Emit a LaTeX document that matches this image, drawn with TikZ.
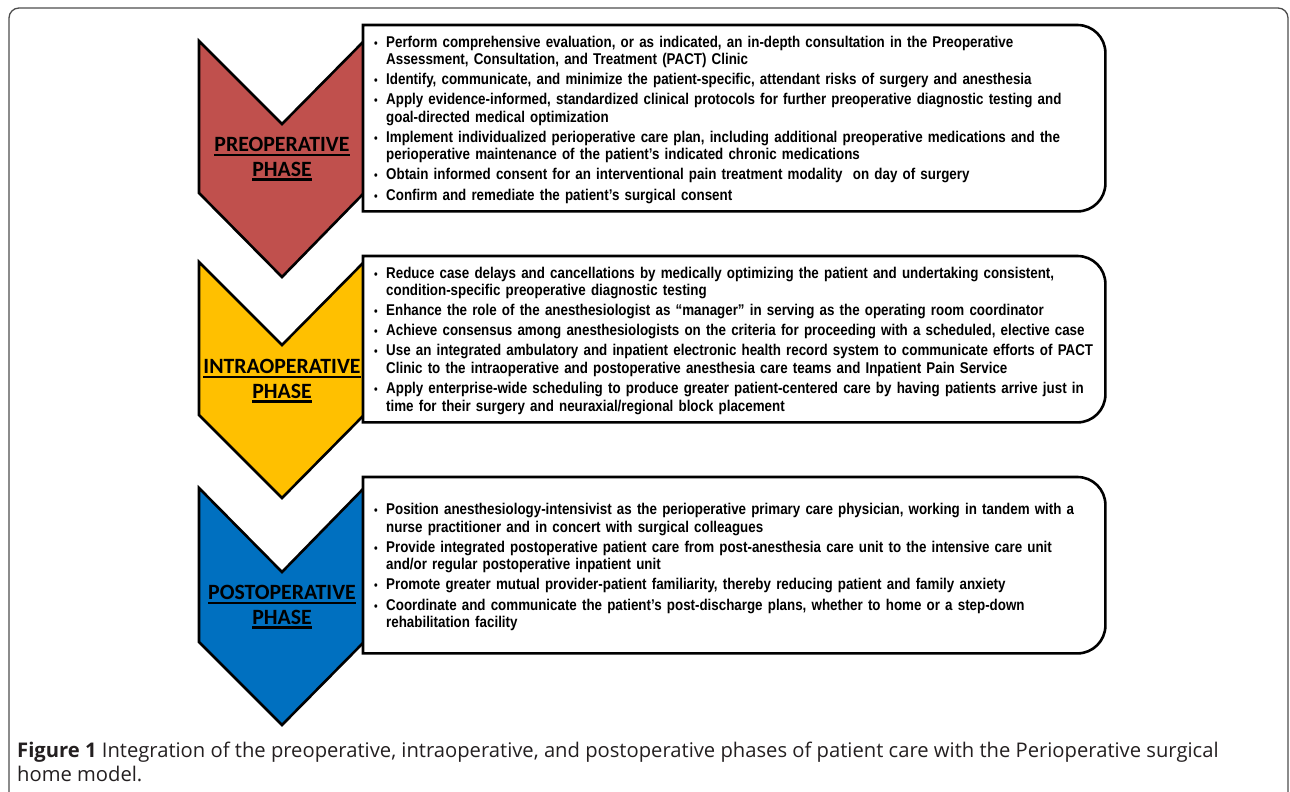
\documentclass[tikz,border=0pt]{standalone}
\usepackage{fontspec}
\setmainfont{Liberation Sans}
\newfontfamily\itemfont[FakeStretch=0.856]{Liberation Sans Bold}
\newfontfamily\phasefont{Carlito Bold}
\newfontfamily\capfont[BoldFont={Open Sans Bold}]{Open Sans}
\definecolor{prered}{HTML}{C0504D}
\definecolor{intrayellow}{HTML}{FFC000}
\definecolor{postblue}{HTML}{0070C0}
\definecolor{capgray}{HTML}{231F20}
\definecolor{framegray}{HTML}{4D4D4D}
% one bullet point, hanging indent
\newcommand{\pitem}[1]{\par\hangindent=12pt\hangafter=1\noindent\makebox[12pt][l]{\fontsize{12}{12}\selectfont\textbullet}#1\par}
% thick underline for the phase names
\newcommand{\phaseul}[1]{\setbox0\hbox{#1}\leavevmode\rlap{\rule[-4.6pt]{\wd0}{2.4pt}}\box0}
\begin{document}
\begin{tikzpicture}[x=1pt, y=1pt,
  chevron/.style={draw=black, line width=2.6pt, line join=miter},
  itembox/.style={anchor=north west, fill=white, minimum width=742pt, inner sep=0pt},
  itemtext/.style={text width=720pt, inner sep=0pt, align=left, yshift=3pt,
    font=\itemfont\fontsize{15.6}{17.5}\selectfont},
  boxline/.style={line width=2.6pt, line join=miter},
  phaselabel/.style={font=\phasefont\fontsize{21.8}{24.5}\selectfont, align=center, inner sep=0pt},
  capline/.style={anchor=base west, inner sep=0pt, text=capgray, font=\capfont\fontsize{20.2}{24}\selectfont}]
  \useasboundingbox (0,0) rectangle (1290,-792);
  % outer frame of the figure
  \draw[framegray, line width=1.3pt, rounded corners=10pt] (9,-800) -- (9,-8) -- (1288,-8) -- (1288,-800);
  % three phase chevrons
  \filldraw[chevron, fill=prered] (199,-41) -- (282,-124) -- (364,-41) -- (364,-193) -- (282,-277) -- (199,-193) -- cycle;
  \filldraw[chevron, fill=intrayellow] (199,-262) -- (282,-345) -- (364,-262) -- (364,-415) -- (282,-498) -- (199,-415) -- cycle;
  \filldraw[chevron, fill=postblue] (199,-488) -- (282,-572) -- (364,-488) -- (364,-642) -- (282,-725) -- (199,-642) -- cycle;
  \node[phaselabel] (prelabel) at (282,-159) {\phaseul{PREOPERATIVE}\\\phaseul{PHASE}};
  \node[phaselabel] (intralabel) at (282,-381) {\phaseul{INTRAOPERATIVE}\\\phaseul{PHASE}};
  \node[phaselabel] (postlabel) at (282,-607) {\phaseul{POSTOPERATIVE}\\\phaseul{PHASE}};
  % item boxes
  \node[itembox, minimum height=186pt] (prebox) at (363,-25) {};
  \node[itembox, minimum height=166pt] (intrabox) at (363,-256) {};
  \node[itembox, minimum height=176pt] (postbox) at (363,-477) {};
  % box outlines, rounded on the right only
  \draw[boxline] (prebox.north west) -- ([xshift=-28pt]prebox.north east) arc[start angle=90, end angle=0, radius=28pt]
    -- ([yshift=28pt]prebox.south east) arc[start angle=0, end angle=-90, radius=28pt] -- (prebox.south west) -- cycle;
  \draw[boxline] (intrabox.north west) -- ([xshift=-28pt]intrabox.north east) arc[start angle=90, end angle=0, radius=28pt]
    -- ([yshift=28pt]intrabox.south east) arc[start angle=0, end angle=-90, radius=28pt] -- (intrabox.south west) -- cycle;
  \draw[boxline] (postbox.north west) -- ([xshift=-28pt]postbox.north east) arc[start angle=90, end angle=0, radius=28pt]
    -- ([yshift=28pt]postbox.south east) arc[start angle=0, end angle=-90, radius=28pt] -- (postbox.south west) -- cycle;
  % preoperative items
  \node[itemtext] (pretext) at (prebox.center) {\setlength{\parskip}{2.6pt}%
    \pitem{Perform comprehensive evaluation, or as indicated, an in-depth consultation in the Preoperative\newline Assessment, Consultation, and Treatment (PACT) Clinic}
    \pitem{Identify, communicate, and minimize the patient-specific, attendant risks of surgery and anesthesia}
    \pitem{Apply evidence-informed, standardized clinical protocols for further preoperative diagnostic testing and\newline goal-directed medical optimization}
    \pitem{Implement individualized perioperative care plan, including additional preoperative medications and the\newline perioperative maintenance of the patient’s indicated chronic medications}
    \pitem{Obtain informed consent for an interventional pain treatment modality \ on day of surgery}
    \pitem{Confirm and remediate the patient’s surgical consent}};
  % intraoperative items
  \node[itemtext] (intratext) at (intrabox.center) {\setlength{\parskip}{2.6pt}%
    \pitem{Reduce case delays and cancellations by medically optimizing the patient and undertaking consistent,\newline condition-specific preoperative diagnostic testing}
    \pitem{Enhance the role of the anesthesiologist as “manager” in serving as the operating room coordinator}
    \pitem{Achieve consensus among anesthesiologists on the criteria for proceeding with a scheduled, elective case}
    \pitem{Use an integrated ambulatory and inpatient electronic health record system to communicate efforts of PACT\newline Clinic to the intraoperative and postoperative anesthesia care teams and Inpatient Pain Service}
    \pitem{Apply enterprise-wide scheduling to produce greater patient-centered care by having patients arrive just in\newline time for their surgery and neuraxial/regional block placement}};
  % postoperative items
  \node[itemtext, yshift=-0.5pt] (posttext) at (postbox.center) {\setlength{\parskip}{2.6pt}%
    \pitem{Position anesthesiology-intensivist as the perioperative primary care physician, working in tandem with a\newline nurse practitioner and in concert with surgical colleagues}
    \pitem{Provide integrated postoperative patient care from post-anesthesia care unit to the intensive care unit\newline and/or regular postoperative inpatient unit}
    \pitem{Promote greater mutual provider-patient familiarity, thereby reducing patient and family anxiety}
    \pitem{Coordinate and communicate the patient’s post-discharge plans, whether to home or a step-down\newline rehabilitation facility}};
  % caption
  \node[capline] (capfirst) at (17,-757) {\textbf{Figure 1} Integration of the preoperative, intraoperative, and postoperative phases of patient care with the Perioperative surgical};
  \node[capline] (capsecond) at (17,-781) {home model.};
\end{tikzpicture}
\end{document}
